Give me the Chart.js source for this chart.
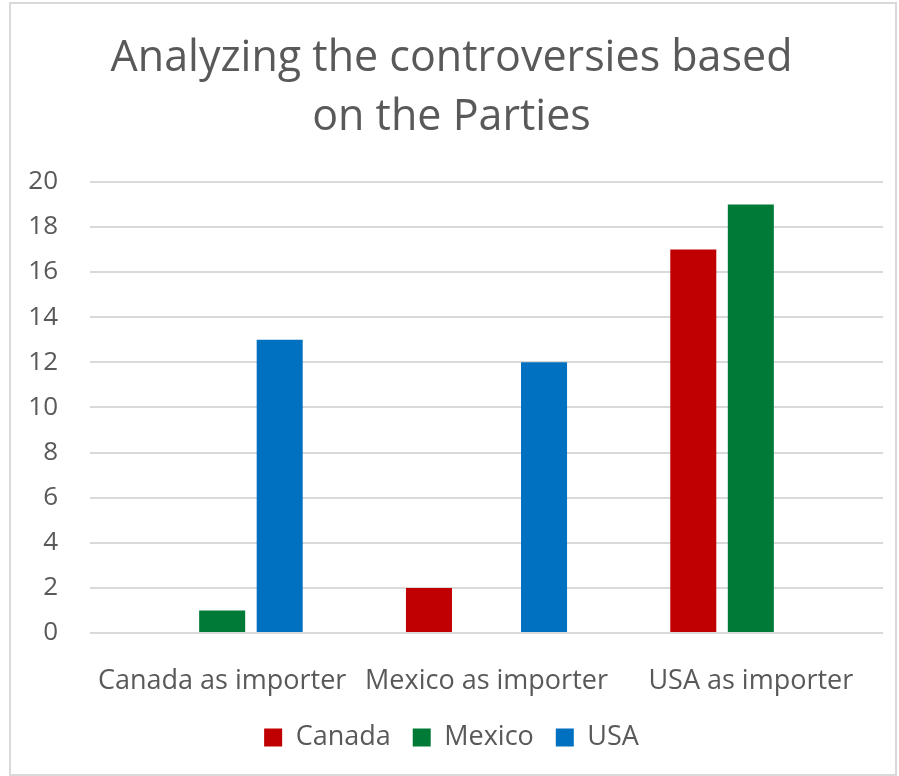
<!DOCTYPE html>
<html>
<head>
<meta charset="utf-8">
<script src="https://cdn.jsdelivr.net/npm/chart.js@4"></script>
<style>
  html, body { margin: 0; padding: 0; background: #fff; }
  #wrap { position: absolute; left: 0; top: 0; width: 899px; height: 776px; }
</style>
</head>
<body>
<div id="wrap"><canvas id="myChart" width="899" height="776"></canvas></div>
<script>
// data
const categories = ['Canada as importer', 'Mexico as importer', 'USA as importer'];
const canadaValues = [0, 2, 17];
const mexicoValues = [1, 0, 19];
const usaValues = [13, 12, 0];
const yTicks = [0, 2, 4, 6, 8, 10, 12, 14, 16, 18, 20];

const textGray = '#595959';
const fontName = "'Open Sans', sans-serif";

// light frame round the whole chart, like the Excel chart border
const framePlugin = {
    id: 'frame',
    beforeDraw(chart) {
        const ctx = chart.ctx;
        ctx.save();
        ctx.fillStyle = '#fff';
        ctx.fillRect(0, 0, chart.width, chart.height);
        ctx.strokeStyle = '#d9d9d9';
        ctx.lineWidth = 2;
        ctx.strokeRect(10, 3, 886, 772);
        ctx.restore();
    }
};

const ctx = document.getElementById('myChart').getContext('2d');
const chart = new Chart(ctx, {
    type: 'bar',
    data: {
        labels: categories,
        datasets: [
            {
                label: 'Canada',
                backgroundColor: '#C00000',
                data: canadaValues
            }, {
                label: 'Mexico',
                backgroundColor: '#007A37',
                data: mexicoValues
            }, {
                label: 'USA',
                backgroundColor: '#0070C0',
                data: usaValues
            }
        ]
    },
    options: {
        responsive: false,
        animation: false,
        layout: {
            padding: { left: 20, right: 16, top: 0, bottom: 15 }
        },
        datasets: {
            bar: {
                categoryPercentage: 0.653,
                barPercentage: 0.8
            }
        },
        plugins: {
            title: {
                display: true,
                text: ['Analyzing the controversies based', 'on the Parties'],
                color: textGray,
                font: { family: fontName, size: 43, weight: 'normal', lineHeight: 1.37 },
                padding: { top: 29, bottom: 35 }
            },
            legend: {
                position: 'bottom',
                labels: {
                    color: textGray,
                    font: { family: fontName, size: 27 },
                    boxWidth: 18,
                    boxHeight: 18,
                    padding: 22
                }
            },
            tooltip: { enabled: false }
        },
        scales: {
            x: {
                afterFit(scale) {
                    scale.height = 69;
                },
                grid: { display: false },
                border: { display: false },
                ticks: {
                    color: textGray,
                    font: { family: fontName, size: 27 },
                    padding: 24,
                    maxRotation: 0,
                    autoSkip: false
                }
            },
            y: {
                min: 0,
                max: 20,
                afterBuildTicks(scale) {
                    scale.ticks = yTicks.map(v => ({ value: v }));
                },
                afterFit(scale) {
                    scale.width = 70;
                },
                grid: { color: '#d9d9d9', lineWidth: 2, drawTicks: false },
                border: { display: false },
                ticks: {
                    color: textGray,
                    font: { family: fontName, size: 26 },
                    padding: 32
                }
            }
        }
    },
    plugins: [framePlugin]
});
</script>
</body>
</html>
